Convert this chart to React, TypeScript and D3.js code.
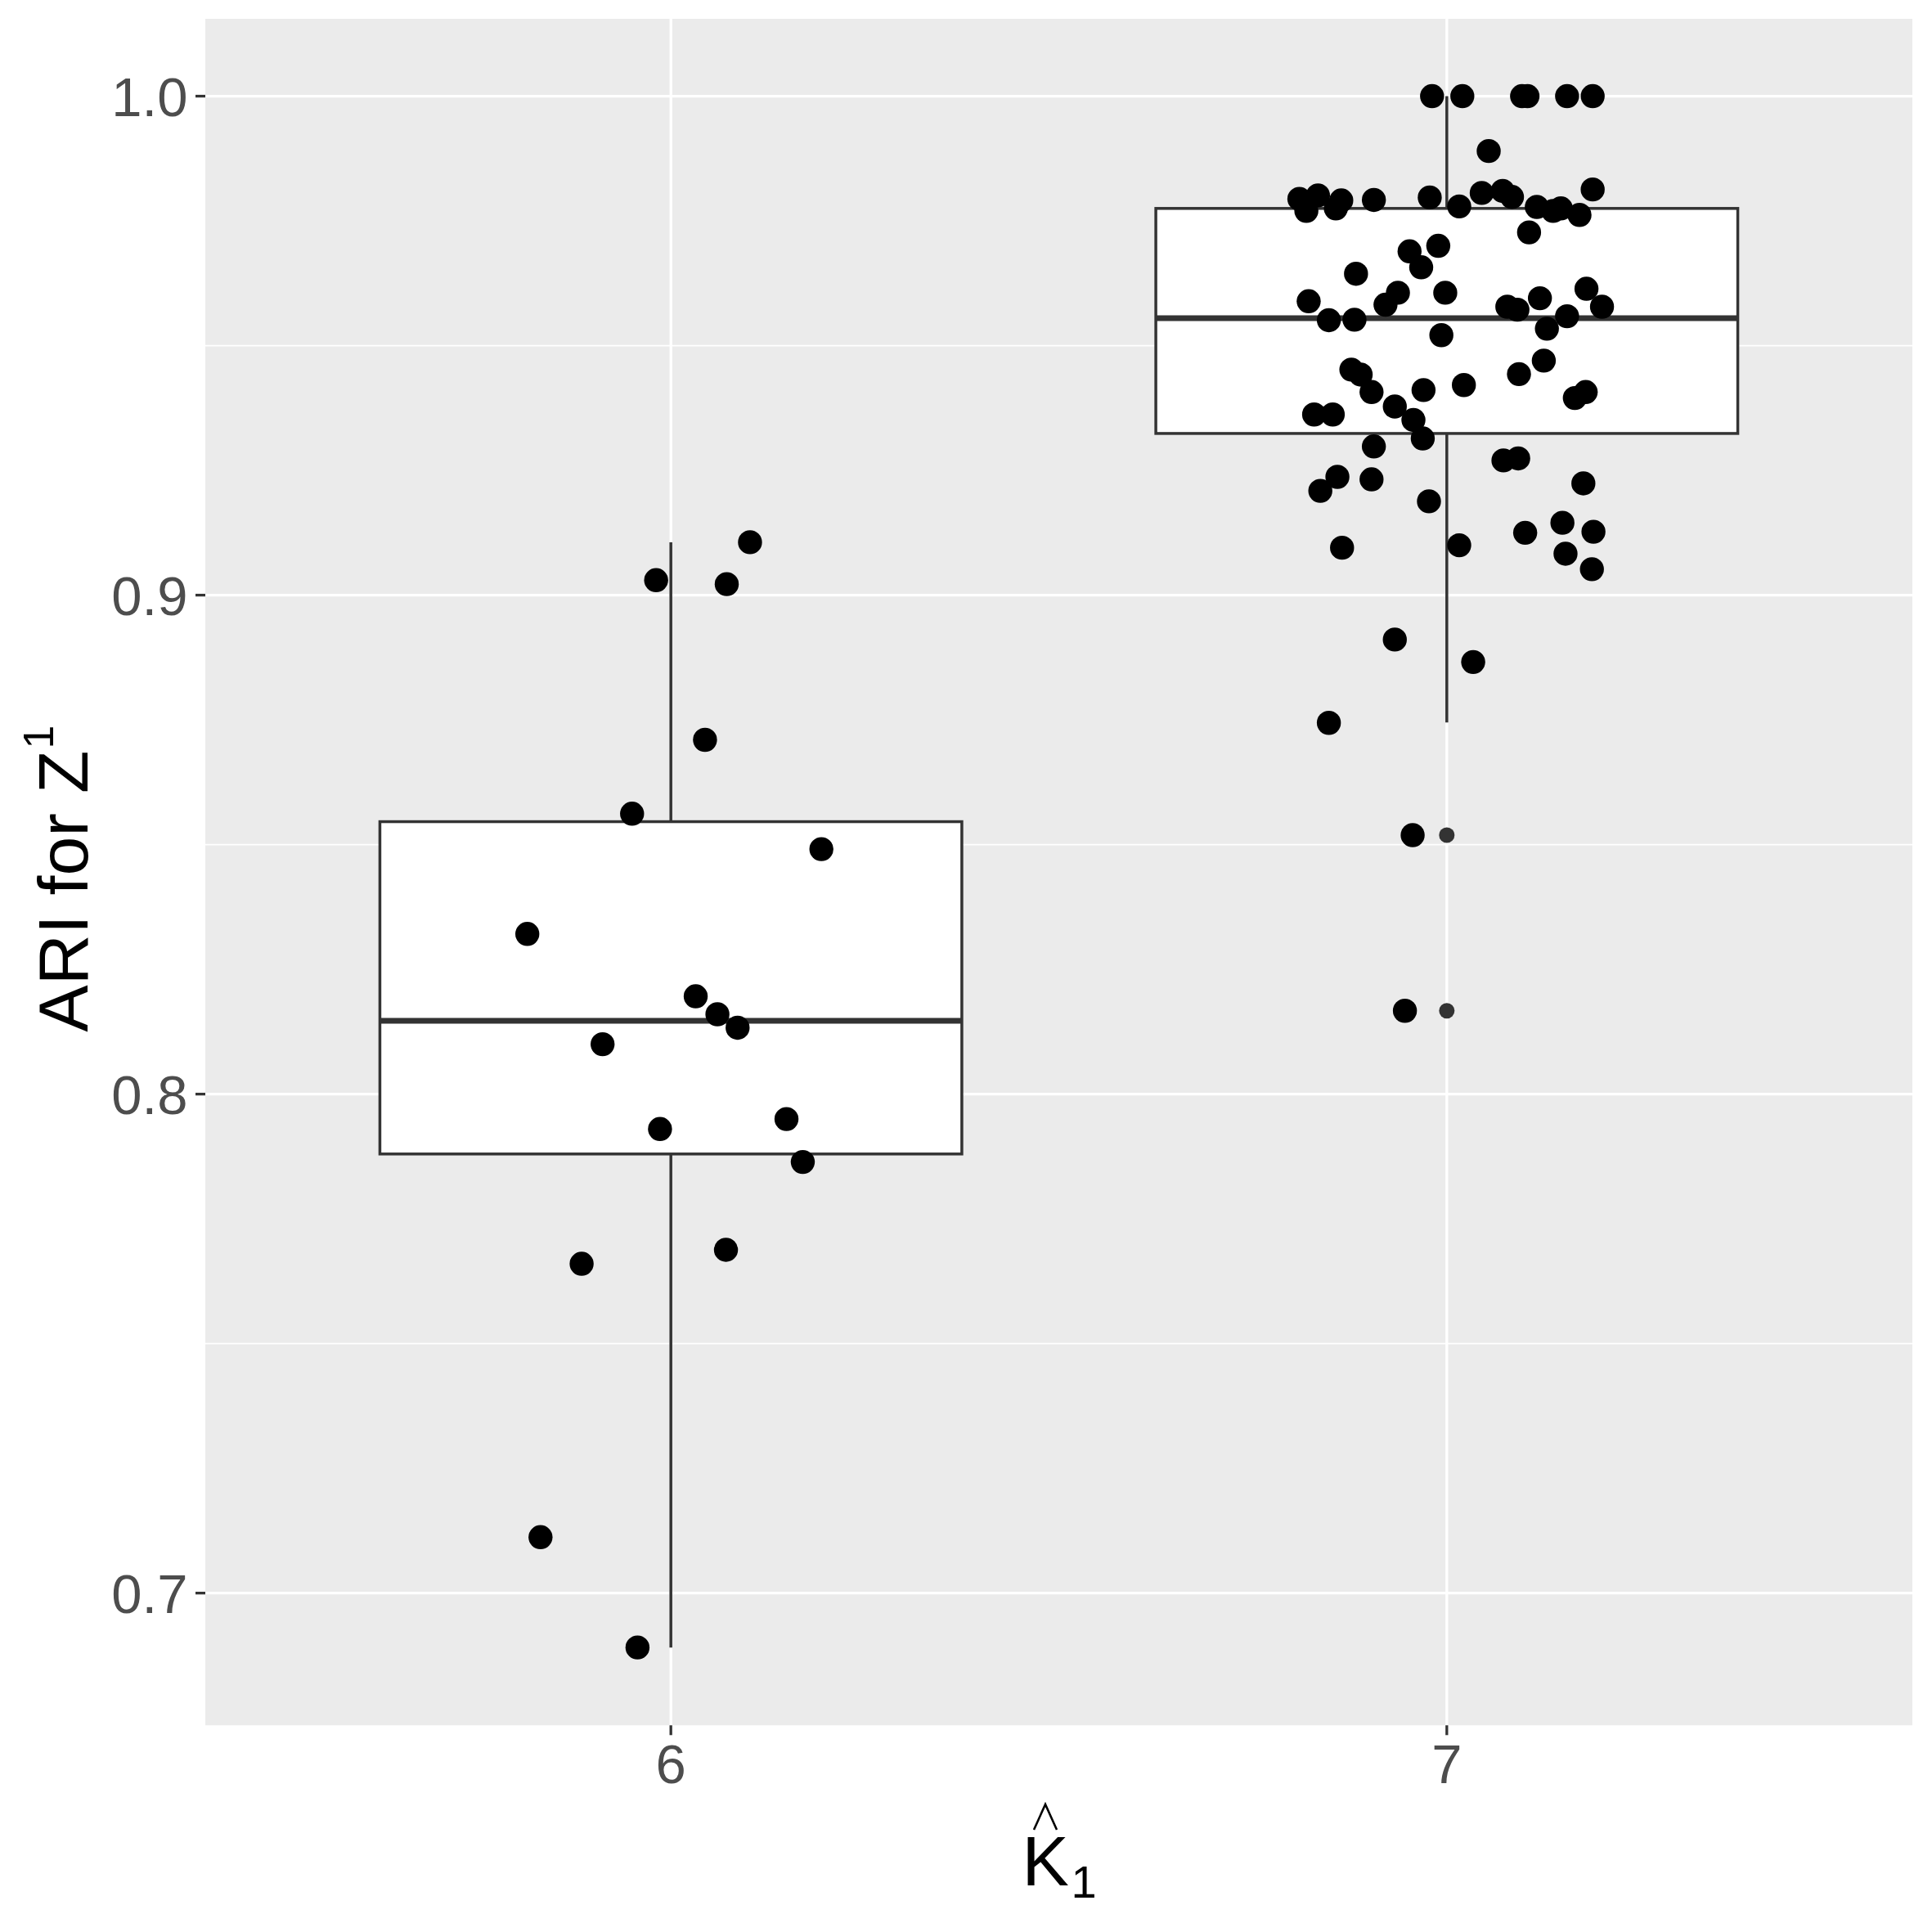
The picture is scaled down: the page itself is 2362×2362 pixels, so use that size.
import * as d3 from "d3";
import React from "react";

// categories on the x axis (K hat 1)
const categories = ["6", "7"];

// y axis ticks
const yTicks = [0.7, 0.8, 0.9, 1.0];
const yMinorTicks = [0.75, 0.85, 0.95];

// box summary, one entry per category
const boxLower = [0.6891, 0.8745];
const boxQ1 = [0.788, 0.9324];
const boxMedian = [0.8147, 0.9555];
const boxQ3 = [0.8546, 0.9775];
const boxUpper = [0.9106, 1.0];
const outliers7 = [0.8519, 0.8167];

// jittered observations, K = 6
const ari6 = [
    0.903, 0.9106, 0.9022, 0.871, 0.8562, 0.8491, 0.8321, 0.8196, 0.816,
    0.8133, 0.81, 0.793, 0.795, 0.7864, 0.7688, 0.766, 0.7112, 0.6891,
];
const jitter6 = [
    -0.019, 0.102, 0.072, 0.044, -0.05, 0.194, -0.185, 0.032, 0.06,
    0.086, -0.088, -0.014, 0.149, 0.17, 0.071, -0.115, -0.168, -0.043,
];

// jittered observations, K = 7
const ari7 = [
    1.0, 1.0, 1.0, 1.0, 1.0, 1.0,
    0.989, 0.9794, 0.977, 0.9801, 0.9791, 0.9775, 0.9792, 0.9797, 0.9779,
    0.9806, 0.981, 0.9798, 0.9778, 0.977, 0.9775, 0.9762, 0.9813, 0.9727,
    0.97, 0.9689, 0.9657, 0.9644, 0.9589, 0.9606, 0.9582, 0.9606, 0.9551,
    0.9552, 0.9521, 0.9578, 0.9572, 0.9595, 0.9614, 0.9578, 0.9559, 0.9534,
    0.947, 0.9443, 0.9452, 0.9442, 0.9407, 0.9411, 0.9421, 0.9378, 0.9351,
    0.9314, 0.9362, 0.9362, 0.9395, 0.9407,
    0.9298, 0.9237, 0.9209, 0.9232, 0.9188, 0.9095, 0.927, 0.9274, 0.9224,
    0.9125, 0.9145, 0.9127, 0.91, 0.9083, 0.9052,
    0.8911, 0.8866, 0.8744, 0.8519, 0.8167,
];
const jitter7 = [
    -0.019, 0.02, 0.097, 0.104, 0.155, 0.188,
    0.054, -0.19, -0.181, -0.166, -0.136, -0.143, -0.094, -0.022, 0.016,
    0.045, 0.072, 0.084, 0.116, 0.137, 0.147, 0.171, 0.188, 0.106,
    -0.011, -0.048, -0.033, -0.117, -0.178, -0.063, -0.079, -0.002, -0.152,
    -0.119, -0.007, 0.078, 0.091, 0.12, 0.18, 0.2, 0.155, 0.129,
    0.125, 0.093, -0.123, -0.111, -0.097, -0.03, 0.022, -0.067, -0.043,
    -0.031, -0.171, -0.147, 0.165, 0.179,
    -0.094, -0.141, -0.163, -0.097, -0.023, -0.135, 0.073, 0.092, 0.176,
    0.101, 0.149, 0.189, 0.016, 0.153, 0.187,
    -0.067, 0.034, -0.152, -0.044, -0.054,
];

const W = 2362;
const H = 2362;
const panel = { left: 251, right: 2338, top: 23, bottom: 2109.3 };
const font = "'Liberation Sans', Arial, Helvetica, sans-serif";

export default function App() {
    const xScale = d3
        .scalePoint()
        .domain(categories)
        .range([panel.left, panel.right])
        .padding(0.6);

    const yScale = d3
        .scaleLinear()
        .domain([0.6735, 1.0155])
        .range([panel.bottom, panel.top]);

    const step = xScale.step();
    const boxW = step * 0.75;

    const points = [
        ...ari6.map((v, i) => ({ x: xScale("6") + jitter6[i] * step, y: yScale(v) })),
        ...ari7.map((v, i) => ({ x: xScale("7") + jitter7[i] * step, y: yScale(v) })),
    ];

    const cx = (panel.left + panel.right) / 2;
    const cy = (panel.top + panel.bottom) / 2;

    // x title pieces: K, hat, subscript 1
    const kStart = cx - 45;
    const kBase = 2305;
    const kMid = kStart + 28.5;

    return (
        <svg width={W} height={H} style={{ position: "absolute", left: 0, top: 0, background: "#fff" }}>
            <rect x={panel.left} y={panel.top} width={panel.right - panel.left} height={panel.bottom - panel.top} fill="#EBEBEB" />

            {yMinorTicks.map((t) => (
                <line key={"mn" + t} x1={panel.left} x2={panel.right} y1={yScale(t)} y2={yScale(t)} stroke="#fff" strokeWidth={1.7} />
            ))}
            {yTicks.map((t) => (
                <line key={"mj" + t} x1={panel.left} x2={panel.right} y1={yScale(t)} y2={yScale(t)} stroke="#fff" strokeWidth={3.3} />
            ))}
            {categories.map((c) => (
                <line key={"vx" + c} x1={xScale(c)} x2={xScale(c)} y1={panel.top} y2={panel.bottom} stroke="#fff" strokeWidth={3.3} />
            ))}

            {categories.map((c, i) => {
                const x = xScale(c);
                return (
                    <g key={"box" + c}>
                        <line x1={x} x2={x} y1={yScale(boxUpper[i])} y2={yScale(boxQ3[i])} stroke="#333333" strokeWidth={3.5} />
                        <line x1={x} x2={x} y1={yScale(boxQ1[i])} y2={yScale(boxLower[i])} stroke="#333333" strokeWidth={3.5} />
                        <rect
                            x={x - boxW / 2}
                            y={yScale(boxQ3[i])}
                            width={boxW}
                            height={yScale(boxQ1[i]) - yScale(boxQ3[i])}
                            fill="#fff"
                            stroke="#333333"
                            strokeWidth={3.5}
                        />
                        <line x1={x - boxW / 2} x2={x + boxW / 2} y1={yScale(boxMedian[i])} y2={yScale(boxMedian[i])} stroke="#333333" strokeWidth={7} />
                    </g>
                );
            })}
            {outliers7.map((v, i) => (
                <circle key={"out" + i} cx={xScale("7")} cy={yScale(v)} r={9.5} fill="#333333" />
            ))}

            {points.map((p, i) => (
                <circle key={"pt" + i} cx={p.x} cy={p.y} r={14.7} fill="#000" />
            ))}

            {yTicks.map((t) => (
                <g key={"yt" + t}>
                    <line x1={panel.left - 12} x2={panel.left} y1={yScale(t)} y2={yScale(t)} stroke="#333333" strokeWidth={3.3} />
                    <text x={panel.left - 21.5} y={yScale(t)} dy="0.36em" textAnchor="end" fontFamily={font} fontSize={67} fill="#4D4D4D">
                        {t.toFixed(1)}
                    </text>
                </g>
            ))}
            {categories.map((c) => (
                <g key={"xt" + c}>
                    <line x1={xScale(c)} x2={xScale(c)} y1={panel.bottom} y2={panel.bottom + 12} stroke="#333333" strokeWidth={3.3} />
                    <text x={xScale(c)} y={2180} textAnchor="middle" fontFamily={font} fontSize={67} fill="#4D4D4D">
                        {c}
                    </text>
                </g>
            ))}

            {/* x title: K hat with subscript 1 */}
            <text x={kStart} y={kBase} fontFamily={font} fontSize={86} fill="#000">K</text>
            <path
                d={`M${kMid - 14},${kBase - 68}L${kMid},${kBase - 99}L${kMid + 14},${kBase - 68}`}
                fill="none"
                stroke="#000"
                strokeWidth={2.6}
            />
            <text x={kStart + 60} y={kBase + 15} fontFamily={font} fontSize={56} fill="#000">1</text>

            {/* y title: ARI for Z^1 */}
            <text transform={`translate(107,${cy + 8}) rotate(-90)`} textAnchor="middle" fontFamily={font} fontSize={86} fill="#000">
                ARI for Z
                <tspan fontSize={52} dx={2} dy={-42}>1</tspan>
            </text>
        </svg>
    );
}
